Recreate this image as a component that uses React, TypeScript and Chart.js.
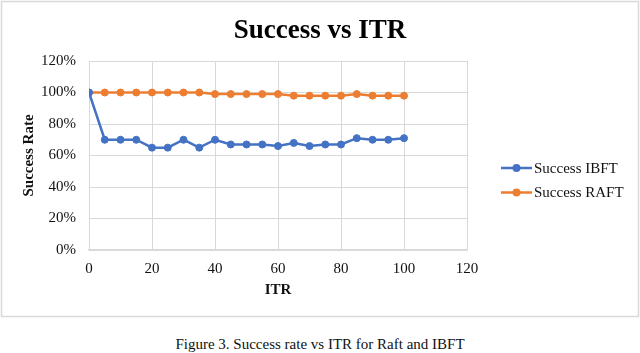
import React, { useEffect, useRef } from "react";
import { Chart, registerables } from "chart.js";

Chart.register(...registerables);

const chartTitle = "Success vs ITR";
const xAxisTitle = "ITR";
const yAxisTitle = "Success Rate";
const caption = "Figure 3. Success rate vs ITR for Raft and IBFT";

const itr = [0, 5, 10, 15, 20, 25, 30, 35, 40, 45, 50, 55, 60, 65, 70, 75, 80, 85, 90, 95, 100];
const successIBFT = [100, 70, 70, 70, 65, 65, 70, 65, 70, 67, 67, 67, 66, 68, 66, 67, 67, 71, 70, 70, 71];
const successRAFT = [100, 100, 100, 100, 100, 100, 100, 100, 99, 99, 99, 99, 99, 98, 98, 98, 98, 99, 98, 98, 98];
const seriesLabels = ["Success IBFT", "Success RAFT"];
const seriesColors = ["#4472C4", "#ED7D31"];

const FONT = "'Liberation Serif', 'Times New Roman', serif";

const borderPlugin = {
  id: "outerBorder",
  beforeDraw(chart: any) {
    const ctx = chart.ctx;
    ctx.save();
    ctx.fillStyle = "#ffffff";
    ctx.fillRect(0, 0, chart.width, chart.height);
    ctx.strokeStyle = "#d9d9d9";
    ctx.lineWidth = 1.5;
    ctx.strokeRect(1.5, 1.5, chart.width - 3, chart.height - 3);
    ctx.restore();
  },
};

const titlePlugin = {
  id: "centerTitle",
  afterDraw(chart: any) {
    const ctx = chart.ctx;
    ctx.save();
    ctx.fillStyle = "#000000";
    ctx.font = `bold 27px ${FONT}`;
    ctx.textAlign = "center";
    ctx.textBaseline = "alphabetic";
    ctx.fillText(chartTitle, chart.width / 2, 38);
    ctx.restore();
  },
};

const legendPlugin = {
  id: "sideLegend",
  afterDraw(chart: any) {
    const ctx = chart.ctx;
    ctx.save();
    chart.data.datasets.forEach((ds: any, i: number) => {
      const y = 168 + i * 24.5;
      const x0 = 501;
      const x1 = 532;
      ctx.strokeStyle = ds.borderColor;
      ctx.lineWidth = 2.5;
      ctx.beginPath();
      ctx.moveTo(x0, y);
      ctx.lineTo(x1, y);
      ctx.stroke();
      ctx.fillStyle = ds.borderColor;
      ctx.beginPath();
      ctx.arc((x0 + x1) / 2, y, 4, 0, Math.PI * 2);
      ctx.fill();
      ctx.fillStyle = "#111111";
      ctx.font = `15px ${FONT}`;
      ctx.textBaseline = "middle";
      ctx.textAlign = "left";
      ctx.fillText(ds.label, 534, y + 1);
    });
    ctx.restore();
  },
};

export default function App() {
  const canvasRef = useRef<HTMLCanvasElement | null>(null);

  useEffect(() => {
    if (!canvasRef.current) return;
    const makeData = (vals: number[]) => itr.map((x, i) => ({ x, y: vals[i] }));
    const chart = new Chart(canvasRef.current, {
      type: "line",
      data: {
        datasets: [
          {
            label: seriesLabels[0],
            data: makeData(successIBFT),
            borderColor: seriesColors[0],
            backgroundColor: seriesColors[0],
            borderWidth: 2.5,
            pointRadius: 3.5,
            pointBorderWidth: 1,
            tension: 0,
          },
          {
            label: seriesLabels[1],
            data: makeData(successRAFT),
            borderColor: seriesColors[1],
            backgroundColor: seriesColors[1],
            borderWidth: 2.5,
            pointRadius: 3.5,
            pointBorderWidth: 1,
            tension: 0,
          },
        ],
      },
      options: {
        responsive: false,
        animation: false,
        layout: { padding: { left: 0, right: 173, top: 61, bottom: 19 } },
        plugins: {
          legend: { display: false },
          tooltip: { enabled: false },
          title: { display: false },
        },
        scales: {
          x: {
            type: "linear",
            min: 0,
            max: 120,
            ticks: {
              stepSize: 20,
              color: "#111111",
              font: { family: FONT, size: 15 },
              padding: 10,
              maxRotation: 0,
            },
            grid: { color: "#d9d9d9", lineWidth: 1, drawTicks: false },
            border: { color: "#d9d9d9", width: 1.5 },
            title: {
              display: true,
              text: xAxisTitle,
              color: "#111111",
              font: { family: FONT, size: 15, weight: "bold", lineHeight: 1.2 },
              padding: { top: 3, bottom: 0 },
            },
            afterFit: (scale: any) => {
              scale.height = 49;
            },
          },
          y: {
            min: 0,
            max: 120,
            ticks: {
              stepSize: 20,
              color: "#111111",
              font: { family: FONT, size: 15 },
              padding: 13,
              callback: (v: any) => `${v}%`,
            },
            grid: { color: "#d9d9d9", lineWidth: 1, drawTicks: false },
            border: { display: false },
            title: {
              display: true,
              text: yAxisTitle,
              color: "#111111",
              font: { family: FONT, size: 15, weight: "bold", lineHeight: 1.2 },
              padding: { top: 20, bottom: 0 },
            },
            afterFit: (scale: any) => {
              scale.width = 89;
            },
          },
        },
      },
      plugins: [borderPlugin, titlePlugin, legendPlugin],
    });
    return () => chart.destroy();
  }, []);

  return (
    <div style={{ position: "absolute", left: 0, top: 0, width: 640, height: 353, background: "#ffffff" }}>
      <canvas ref={canvasRef} width={640} height={318} style={{ display: "block", width: 640, height: 318 }} />
      <div
        style={{
          position: "absolute",
          left: 0,
          top: 336,
          width: 640,
          textAlign: "center",
          fontFamily: FONT,
          fontSize: 15,
          lineHeight: "17px",
          color: "#111111",
        }}
      >
        {caption}
      </div>
    </div>
  );
}
